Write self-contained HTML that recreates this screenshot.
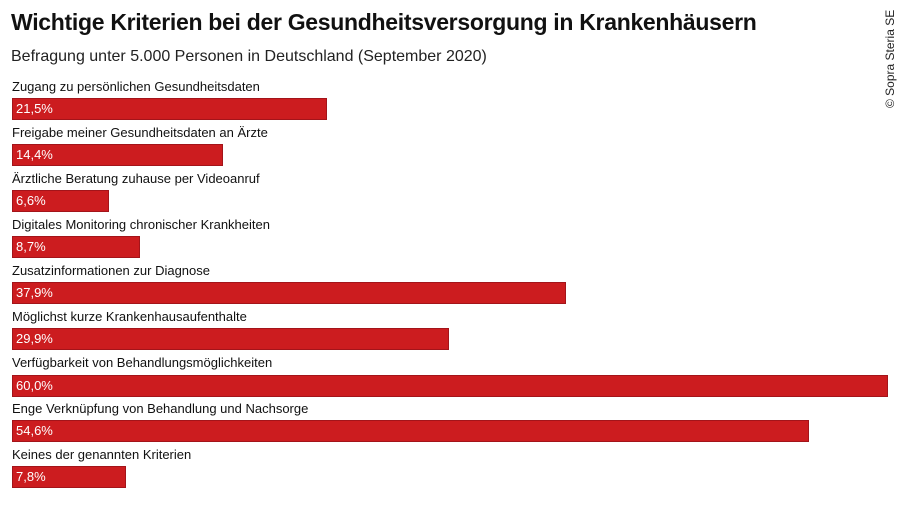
<!DOCTYPE html>
<html><head><meta charset="utf-8"><style>
body{margin:0;width:900px;height:506px;background:#fff;font-family:"Liberation Sans",sans-serif;position:relative;overflow:hidden;color:#111}
.t{position:absolute;left:11px;top:9px;font-size:23px;font-weight:bold;letter-spacing:-0.3px}
.s{position:absolute;left:11px;top:48px;font-size:16px;color:#222}
.l{position:absolute;left:12px;font-size:13px;color:#111}
.b{position:absolute;left:12px;height:20px;background:#cc1c1f;border:1px solid #a3141a;box-sizing:content-box;color:#fff;font-size:13px;line-height:20px;padding-left:0}
.b span{position:absolute;left:3px}
.c{position:absolute;left:883px;top:108px;transform:rotate(-90deg);transform-origin:left top;font-size:12px;color:#222;white-space:nowrap}
</style></head><body>
<div class="t">Wichtige Kriterien bei der Gesundheitsversorgung in Krankenhäusern</div>
<div class="s">Befragung unter 5.000 Personen in Deutschland (September 2020)</div>
<div class="c">© Sopra Steria SE</div>
<div class="l" style="top:79px">Zugang zu persönlichen Gesundheitsdaten</div>
<div class="b" style="top:98px;width:313px"><span>21,5%</span></div>
<div class="l" style="top:125px">Freigabe meiner Gesundheitsdaten an Ärzte</div>
<div class="b" style="top:144px;width:209px"><span>14,4%</span></div>
<div class="l" style="top:171px">Ärztliche Beratung zuhause per Videoanruf</div>
<div class="b" style="top:190px;width:95px"><span>6,6%</span></div>
<div class="l" style="top:217px">Digitales Monitoring chronischer Krankheiten</div>
<div class="b" style="top:236px;width:126px"><span>8,7%</span></div>
<div class="l" style="top:263px">Zusatzinformationen zur Diagnose</div>
<div class="b" style="top:282px;width:552px"><span>37,9%</span></div>
<div class="l" style="top:309px">Möglichst kurze Krankenhausaufenthalte</div>
<div class="b" style="top:328px;width:435px"><span>29,9%</span></div>
<div class="l" style="top:355px">Verfügbarkeit von Behandlungsmöglichkeiten</div>
<div class="b" style="top:375px;width:874px"><span>60,0%</span></div>
<div class="l" style="top:401px">Enge Verknüpfung von Behandlung und Nachsorge</div>
<div class="b" style="top:420px;width:795px"><span>54,6%</span></div>
<div class="l" style="top:447px">Keines der genannten Kriterien</div>
<div class="b" style="top:466px;width:112px"><span>7,8%</span></div>
</body></html>
